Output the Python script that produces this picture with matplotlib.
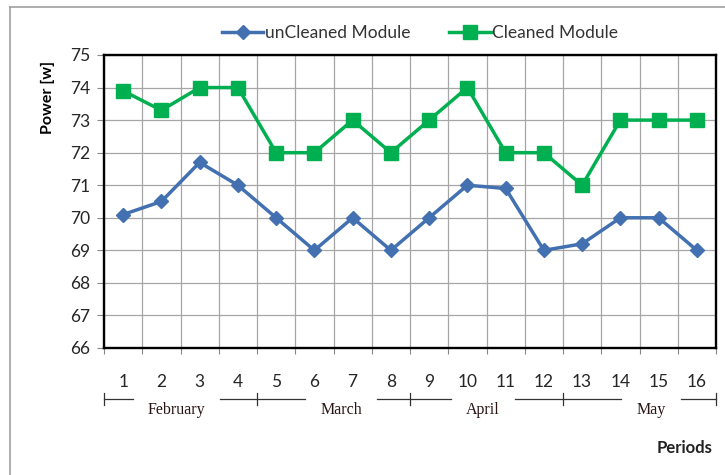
import numpy as np
import matplotlib.pyplot as plt
from matplotlib.lines import Line2D
from matplotlib.transforms import blended_transform_factory

periods = list(range(1, 17))
uncleaned = [70.1, 70.5, 71.7, 71.0, 70.0, 69.0, 70.0, 69.0,
             70.0, 71.0, 70.9, 69.0, 69.2, 70.0, 70.0, 69.0]
cleaned = [73.9, 73.3, 74.0, 74.0, 72.0, 72.0, 73.0, 72.0,
           73.0, 74.0, 72.0, 72.0, 71.0, 73.0, 73.0, 73.0]
months = ["February", "March", "April", "May"]
periods_per_month = 4
y_ticks = list(range(66, 76))

plt.rcParams['font.family'] = ['Lato', 'DejaVu Sans']

W, H = 725, 475
fig = plt.figure(figsize=(W / 100, H / 100), dpi=100)
ax = fig.add_axes([104 / W, 1 - 348 / H, 612 / W, 293 / H])

ax.plot(periods, uncleaned, '-D', color='#4270B0', lw=2.5, ms=7.5,
        label='unCleaned Module')
ax.plot(periods, cleaned, '-s', color='#00B050', lw=2.5, ms=9.5,
        label='Cleaned Module')

ax.set_xlim(0.5, len(periods) + 0.5)
ax.set_ylim(min(y_ticks), max(y_ticks))
ax.set_yticks(y_ticks)
ax.set_xticks(periods)
ax.set_xticks(np.arange(0.5, len(periods) + 1), minor=True)
ax.grid(True, which='major', axis='y', color='#a6a6a6', lw=0.9)
ax.grid(True, which='minor', axis='x', color='#a6a6a6', lw=0.9)
ax.set_axisbelow(True)
ax.tick_params(axis='y', which='major', length=5, width=0.8, color='#888888',
               pad=5, labelsize=12.5, labelcolor='#262626')
ax.tick_params(axis='x', which='major', length=0, pad=19, labelsize=12.5,
               labelcolor='#262626')
ax.tick_params(axis='x', which='minor', length=4, width=0.8, color='#888888')
for s in ax.spines.values():
    s.set_color('black')
    s.set_linewidth(1.7)

ax.set_ylabel('Power [w]', fontsize=11.5, fontweight='bold')
ax.yaxis.set_label_coords(-0.08, 0.855)

# month brackets under the period numbers
trans = blended_transform_factory(ax.transData, ax.transAxes)
line_y = -51 / 293
text_y = -62 / 293
fig.canvas.draw()
renderer = fig.canvas.get_renderer()
offsets = [-0.1, 0.2, -0.1, 0.3]
for i, m in enumerate(months):
    x0 = 0.5 + i * periods_per_month
    x1 = x0 + periods_per_month
    t = ax.text((x0 + x1) / 2 + offsets[i], text_y, m, transform=trans,
                ha='center', va='center', fontsize=11.5,
                family='Liberation Serif', color='#2a1515')
    bb = t.get_window_extent(renderer)
    inv = ax.transData.inverted()
    left = inv.transform((bb.x0 - 15, 0))[0]
    right = inv.transform((bb.x1 + 15, 0))[0]
    ax.plot([x0, left], [line_y, line_y], color='#333333', lw=0.9,
            transform=trans, clip_on=False)
    ax.plot([right, x1], [line_y, line_y], color='#333333', lw=0.9,
            transform=trans, clip_on=False)
for xb in np.arange(0.5, len(periods) + 1, periods_per_month):
    ax.plot([xb, xb], [line_y - 6 / 293, line_y + 6 / 293], color='#333333',
            lw=0.9, transform=trans, clip_on=False)

fig.text(712 / W, 1 - 448 / H, 'Periods', ha='right', va='center',
         fontsize=12, fontweight='bold', color='#222222')

fig.legend(loc='center', bbox_to_anchor=(420 / W, 1 - 33 / H), ncol=2,
           frameon=False, fontsize=12.5, handlelength=2.4, columnspacing=2.2,
           handletextpad=0.1, labelcolor='#333333')

# outer chart border
fig.add_artist(Line2D([10 / W, 10 / W], [0, 1 - 7 / H], color='#a0a0a0', lw=1.2))
fig.add_artist(Line2D([10 / W, 1], [1 - 7 / H, 1 - 7 / H], color='#a0a0a0', lw=1.2))

fig.savefig('out.png', dpi=100)
